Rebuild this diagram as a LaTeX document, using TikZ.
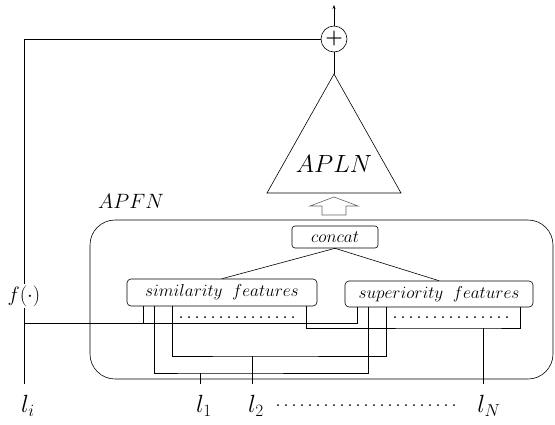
\documentclass[tikz,border=0pt]{standalone}
\usetikzlibrary{arrows.meta}
\begin{document}
\begin{tikzpicture}[x=1pt,y=-1pt,line width=0.6pt,
  box/.style={draw,rounded corners=4pt,minimum height=27pt,inner sep=0pt,font=\fontsize{17}{19}\selectfont},
  lbl/.style={inner sep=0pt,outer ysep=11pt,anchor=north,font=\fontsize{23}{26}\selectfont},
  dots/.style={line width=2pt,line cap=round,dash pattern=on 0pt off 8pt}]
\useasboundingbox (0,0) rectangle (555,424);
% top adder
\node[draw,circle,minimum size=26pt,inner sep=0pt,font=\fontsize{20}{20}\selectfont\bfseries] (plus) at (334,39) {+};
\coordinate (out) at (334,5);
\draw[-{Stealth[length=4pt,width=3pt]}] (plus) -- (out);
% APLN triangle
\coordinate (apex) at (334,74);
\coordinate (bl) at (267,193);
\coordinate (br) at (401,193);
\draw (apex) -- (bl) -- (br) -- cycle;
\node[font=\fontsize{23}{25}\selectfont] (apln) at (334,164) {$APLN$};
\draw (plus) -- (apex);
% hollow arrow
\draw[black!60] (322,215) -- (322,206) -- (310,206) -- (334,197) -- (358,206) -- (346,206) -- (346,215) -- cycle;
% APFN box
\node[draw,rounded corners=25pt,minimum width=463pt,minimum height=159pt,inner sep=0pt] (apfn) at (321.5,299.5) {};
\node[font=\fontsize{21}{23}\selectfont] (apfnlab) at (131,201) {$APFN$};
% inner boxes
\node[box,minimum width=86pt,minimum height=22pt,rounded corners=3pt] (concat) at (335,237) {$concat$};
\node[box,minimum width=190pt] (sim) at (222,292.5) {$similarity\;\;features$};
\node[box,minimum width=188pt,minimum height=26pt] (sup) at (439,294) {$superiority\;\;features$};
\draw (concat.south) -- (sim.north);
\draw (concat.south) -- (sup.north);
% labels
\node[inner sep=1pt,font=\fontsize{22}{24}\selectfont] (f) at (24,296) {$f(\cdot)$};
\node[lbl] (li) at (28,384) {$l_i$};
\node[lbl] (l1) at (204,384) {$l_1$};
\node[lbl] (l2) at (256,384) {$l_2$};
\node[lbl] (lN) at (489,384) {$l_N$};
\draw[dots] (278,405) -- (456,405);
% feedback line
\draw (plus.west) -| (f.north);
\draw (f.south) -- (f.south |- li.north);
\coordinate (fj) at (24,323);
\coordinate (s1) at ([xshift=17pt]sim.south west);
\coordinate (u1) at ([xshift=13pt]sup.south west);
\draw (fj) -| (u1);
\draw (s1) -- (s1 |- fj);
% bus l1
\coordinate (s2) at ([xshift=28pt]sim.south west);
\coordinate (u2) at ([xshift=24pt]sup.south west);
\coordinate (b1) at (200,373);
\draw (s2) |- (b1) -| (u2);
\draw (b1) -- (b1 |- l1.north);
% bus l2
\coordinate (s3) at ([xshift=46pt]sim.south west);
\coordinate (u3) at ([xshift=42pt]sup.south west);
\coordinate (b2) at (252,356);
\draw (s3) |- (b2) -| (u3);
\draw (b2) -- (b2 |- l2.north);
% bus lN
\coordinate (s4) at ([xshift=-11pt]sim.south east);
\coordinate (u4) at ([xshift=-13pt]sup.south east);
\coordinate (bN) at (483,328);
\draw (s4) |- (bN) -| (u4);
\draw (bN) -- (bN |- lN.north);
% dots under boxes
\draw[dots] (181,317) -- (300,317);
\draw[dots] (395,317) -- (510,317);
\end{tikzpicture}
\end{document}
